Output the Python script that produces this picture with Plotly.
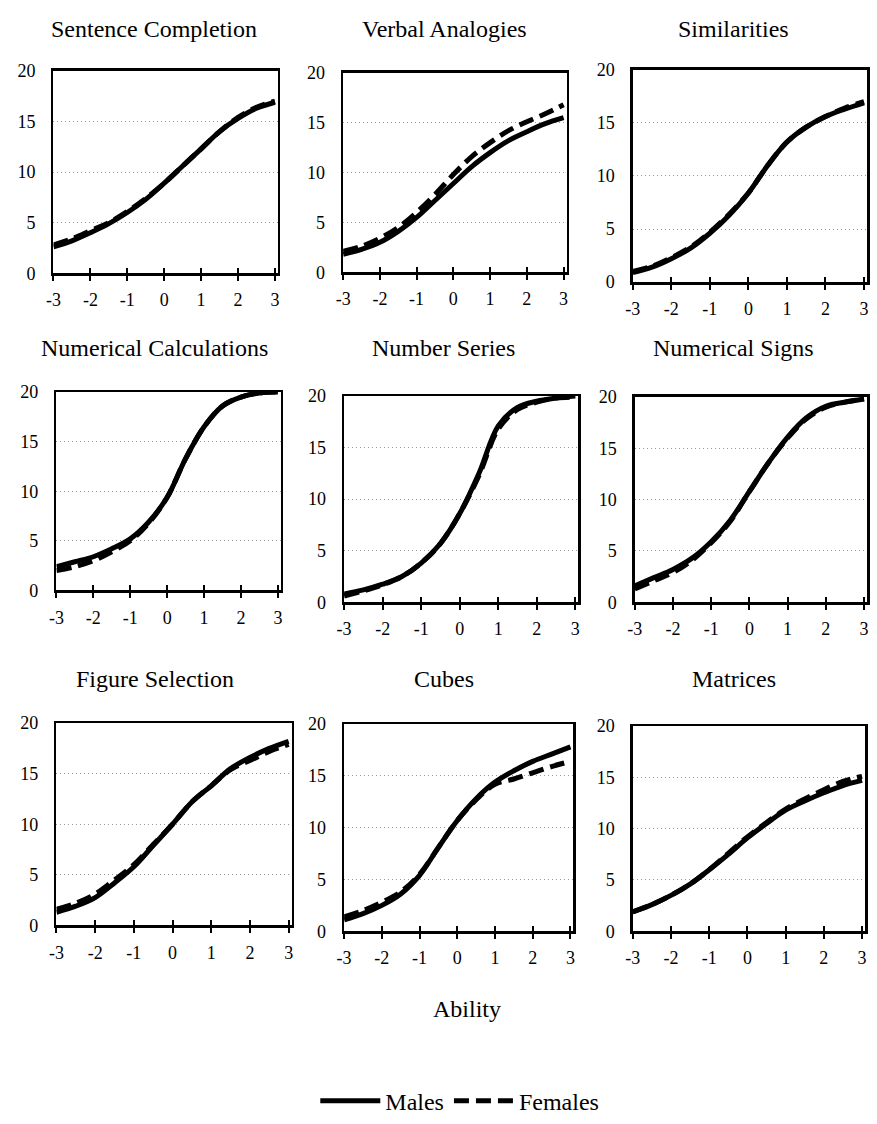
import plotly.graph_objects as go

W, H = 877, 1124
FONT = "Liberation Serif"

# ---------------- data ----------------
ability = [-3, -2.5, -2, -1.5, -1, -0.5, 0, 0.5, 1, 1.5, 2, 2.5, 3]
x_ticks = [-3, -2, -1, 0, 1, 2, 3]
y_ticks = [0, 5, 10, 15, 20]

titles = ["Sentence Completion", "Verbal Analogies", "Similarities",
          "Numerical Calculations", "Number Series", "Numerical Signs",
          "Figure Selection", "Cubes", "Matrices"]

sc_males = [2.6, 3.2, 4.0, 4.9, 6.0, 7.3, 8.9, 10.6, 12.3, 14.0, 15.3, 16.3, 16.9]
sc_females = [2.8, 3.4, 4.2, 5.0, 6.1, 7.4, 8.9, 10.6, 12.3, 14.0, 15.4, 16.4, 17.0]

va_males = [1.8, 2.3, 3.0, 4.1, 5.5, 7.2, 8.9, 10.6, 12.0, 13.2, 14.1, 14.9, 15.5]
va_females = [2.1, 2.6, 3.4, 4.5, 6.0, 7.8, 9.8, 11.6, 13.0, 14.2, 15.1, 15.9, 16.8]

sim_males = [0.9, 1.4, 2.2, 3.2, 4.6, 6.3, 8.4, 11.0, 13.2, 14.6, 15.6, 16.3, 16.9]
sim_females = [1.0, 1.5, 2.3, 3.3, 4.7, 6.4, 8.4, 11.0, 13.2, 14.6, 15.6, 16.4, 17.0]

nc_males = [2.4, 2.9, 3.4, 4.2, 5.2, 6.9, 9.4, 13.3, 16.5, 18.6, 19.5, 19.9, 20.0]
nc_females = [2.0, 2.4, 3.0, 3.9, 5.0, 6.8, 9.4, 13.3, 16.5, 18.6, 19.5, 19.9, 20.0]

ns_males = [0.8, 1.2, 1.75, 2.5, 3.8, 5.7, 8.6, 12.5, 17.1, 18.9, 19.5, 19.8, 20.0]
ns_females = [0.6, 1.1, 1.7, 2.5, 3.8, 5.7, 8.6, 12.3, 16.8, 18.7, 19.4, 19.8, 19.9]

nsig_males = [1.6, 2.4, 3.2, 4.3, 5.9, 8.0, 10.8, 13.6, 16.1, 18.0, 19.1, 19.5, 19.8]
nsig_females = [1.3, 2.1, 2.9, 4.1, 5.8, 7.9, 10.8, 13.6, 16.0, 17.9, 19.0, 19.5, 19.8]

fs_males = [1.3, 1.9, 2.75, 4.2, 5.8, 7.9, 10.0, 12.2, 13.8, 15.5, 16.6, 17.5, 18.2]
fs_females = [1.6, 2.2, 3.1, 4.5, 6.0, 8.0, 10.0, 12.2, 13.8, 15.4, 16.3, 17.2, 17.9]

cu_males = [1.1, 1.7, 2.5, 3.6, 5.4, 8.1, 10.7, 12.8, 14.4, 15.5, 16.4, 17.1, 17.8]
cu_females = [1.4, 2.0, 2.8, 3.8, 5.5, 8.1, 10.7, 12.7, 14.2, 14.7, 15.3, 15.9, 16.4]

ma_males = [1.9, 2.6, 3.5, 4.6, 6.0, 7.5, 9.1, 10.5, 11.8, 12.7, 13.5, 14.2, 14.7]
ma_females = [1.9, 2.6, 3.5, 4.6, 6.0, 7.6, 9.2, 10.6, 11.9, 12.9, 13.8, 14.6, 15.1]

males = [sc_males, va_males, sim_males, nc_males, ns_males, nsig_males,
         fs_males, cu_males, ma_males]
females = [sc_females, va_females, sim_females, nc_females, ns_females, nsig_females,
           fs_females, cu_females, ma_females]

# ---------------- layout geometry (pixels: x0, x1, y0, y1) ----------------
boxes = [
    (46, 273, 62, 268), (339, 565, 64, 267), (632, 869, 61, 277),
    (49, 276, 389, 591), (340, 577, 393, 603), (634, 869, 394, 603),
    (49, 287, 726, 932), (340, 572, 727, 938), (632, 867, 729, 938),
]
title_pos = [
    (148, 19), (442, 19), (734, 19),
    (148, 344), (441, 344), (734, 344),
    (149, 681), (441, 681), (734, 681),
]

fig = go.Figure()
layout = {}
annotations = []

for i in range(9):
    k = i + 1
    xn = "x" if k == 1 else f"x{k}"
    yn = "y" if k == 1 else f"y{k}"
    x0, x1, y0, y1 = boxes[i]
    fig.add_trace(go.Scatter(
        x=ability, y=males[i], mode="lines", line_shape="spline",
        line=dict(color="black", width=5), name="Males",
        showlegend=(i == 0), legendgroup="m", xaxis=xn, yaxis=yn,
        hoverinfo="skip"))
    fig.add_trace(go.Scatter(
        x=ability, y=females[i], mode="lines", line_shape="spline",
        line=dict(color="black", width=5, dash="15px,7px"), name="Females",
        showlegend=(i == 0), legendgroup="f", xaxis=xn, yaxis=yn,
        hoverinfo="skip"))
    # overlay axis for the inner half of crossing tick marks
    ko = k + 9
    fig.add_trace(go.Scatter(x=[], y=[], xaxis=f"x{ko}", yaxis=yn,
                             showlegend=False, hoverinfo="skip"))

    xd = [x0 / W, x1 / W]
    yd = [1 - y1 / H, 1 - y0 / H]
    layout["xaxis" if k == 1 else f"xaxis{k}"] = dict(
        domain=xd, anchor=yn, range=[-3, 3.08], tickvals=x_ticks,
        ticktext=[str(v) for v in x_ticks],
        ticks="outside", ticklen=5, tickwidth=2, tickcolor="black",
        showline=True, linewidth=2.5, linecolor="black", mirror=True,
        showgrid=False, zeroline=False, ticklabelstandoff=4,
        tickfont=dict(family=FONT, size=18, color="black"), fixedrange=True)
    layout[f"xaxis{ko}"] = dict(
        domain=xd, anchor=yn, overlaying=xn, range=[-3, 3.08],
        tickvals=x_ticks, ticks="inside", ticklen=5, tickwidth=2,
        tickcolor="black", showticklabels=False, showline=False,
        showgrid=False, zeroline=False, fixedrange=True)
    layout["yaxis" if k == 1 else f"yaxis{k}"] = dict(
        domain=yd, anchor=xn, range=[0, 20], tickvals=y_ticks,
        ticks="", showline=True, linewidth=2.5, linecolor="black",
        mirror=True, showgrid=True, gridcolor="#9a9a9a", gridwidth=1,
        griddash="1px,3px", zeroline=False, ticklabelstandoff=12,
        tickfont=dict(family=FONT, size=18, color="black"), fixedrange=True)

    tx, ty = title_pos[i]
    annotations.append(dict(
        text=titles[i], x=tx / W, y=1 - ty / H, xref="paper", yref="paper",
        xanchor="center", yanchor="middle", showarrow=False,
        font=dict(family=FONT, size=24, color="black")))

annotations.append(dict(
    text="Ability", x=464 / W, y=1 - 1017 / H, xref="paper", yref="paper",
    xanchor="center", yanchor="middle", showarrow=False,
    font=dict(family=FONT, size=24, color="black")))

fig.update_layout(
    **layout,
    annotations=annotations,
    width=W, height=H, autosize=False,
    margin=dict(l=0, r=0, t=0, b=0),
    paper_bgcolor="white", plot_bgcolor="white",
    font=dict(family=FONT, color="black"),
    showlegend=True,
    legend=dict(orientation="h", x=457 / W, xanchor="center",
                y=1 - 1111 / H, yanchor="middle",
                font=dict(family=FONT, size=24, color="black"),
                bgcolor="rgba(0,0,0,0)", itemwidth=60),
)

fig.write_html(
    "out.html",
    config={"displayModeBar": False, "staticPlot": True},
    post_script=("document.body.style.margin='0';"
                 "document.body.style.padding='0';"
                 "document.documentElement.style.overflow='hidden';"
                 "document.body.style.overflow='hidden';"))
